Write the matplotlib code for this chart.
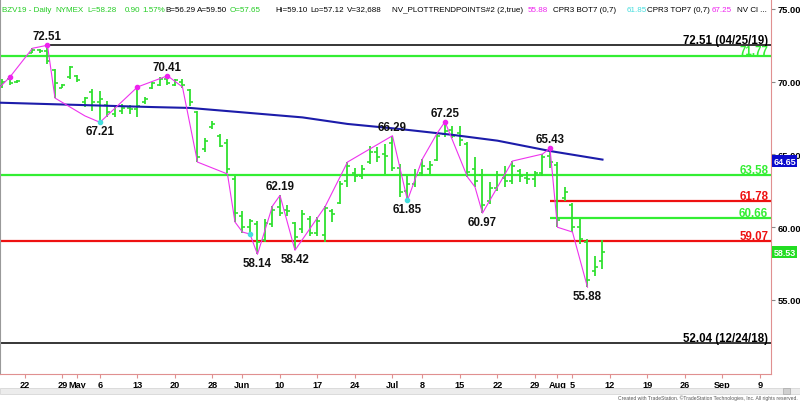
import numpy as np
import matplotlib.pyplot as plt
from matplotlib.patches import Rectangle

# trading-day index (0 = Apr 22 2019) and OHLC
bar_idx = [-3, -2, -1, 1, 2, 3, 4, 5, 6, 7, 8, 9, 10, 11, 12, 13, 14, 15, 16, 17,
           18, 19, 20, 21, 22, 23, 24, 25, 26, 27, 28, 29, 30, 31, 32, 33, 34, 35, 36, 37,
           38, 39, 40, 41, 42, 43, 44, 45, 46, 47, 48, 49, 50, 51, 52, 53, 54, 55, 56, 57,
           58, 59, 60, 61, 62, 63, 64, 65, 66, 67, 68, 69, 70, 71, 72, 73, 74, 75, 76, 77]
highs = [70.20, 70.33, 70.15, 72.30, 72.25, 72.51, 70.90, 69.85, 71.10, 70.45,
         68.95, 69.50, 69.36, 68.70, 68.40, 68.45, 68.40, 69.64, 68.95, 69.98,
         70.33, 70.41, 70.20, 70.20, 69.50, 68.00, 66.10, 67.30, 66.40, 66.07,
         63.50, 61.10, 60.60, 60.40, 60.56, 61.46, 62.19, 61.50, 60.36, 61.20,
         60.80, 60.70, 61.46, 61.25, 63.20, 64.48, 64.10, 64.30, 65.60, 65.50,
         65.70, 66.29, 64.35, 63.50, 64.00, 64.70, 64.55, 66.50, 67.25, 66.96,
         66.96, 65.86, 64.80, 64.00, 63.10, 63.86, 64.20, 64.55, 64.00, 63.80,
         63.86, 65.00, 65.43, 64.48, 62.80, 61.70, 60.56, 59.20, 58.00, 59.10]
lows = [69.60, 69.80, 69.90, 71.95, 72.00, 71.20, 68.90, 69.55, 70.20, 70.00,
        68.25, 68.00, 67.21, 67.60, 67.60, 67.80, 67.80, 67.60, 68.50, 69.50,
        69.70, 69.80, 69.70, 69.60, 68.30, 64.50, 65.20, 66.75, 65.50, 63.70,
        60.36, 59.60, 59.50, 58.14, 59.00, 60.00, 60.80, 60.80, 58.42, 59.60,
        59.40, 59.40, 59.00, 60.36, 61.60, 62.80, 63.10, 63.30, 64.35, 64.50,
        63.66, 63.90, 62.10, 61.85, 62.80, 63.50, 63.66, 64.55, 66.20, 66.10,
        65.60, 63.45, 62.77, 60.97, 61.60, 62.50, 62.80, 62.97, 63.10, 62.97,
        62.80, 63.50, 64.10, 60.00, 61.80, 59.67, 58.85, 55.88, 56.65, 57.12]
opens = [69.70, 70.20, 70.00, 72.00, 72.20, 72.10, 70.80, 69.60, 70.30, 70.40,
         68.60, 69.30, 68.60, 68.40, 67.80, 68.00, 68.20, 68.10, 68.60, 69.60,
         69.80, 70.20, 69.80, 70.00, 69.40, 67.90, 65.40, 66.90, 66.30, 65.80,
         63.30, 60.80, 60.00, 60.20, 59.10, 60.20, 61.40, 61.20, 60.30, 59.90,
         60.60, 59.60, 59.50, 61.10, 61.70, 63.20, 63.70, 63.50, 64.50, 65.20,
         65.00, 65.80, 64.10, 62.50, 63.00, 63.70, 64.00, 64.60, 66.40, 66.70,
         66.50, 65.70, 64.00, 63.60, 61.80, 62.70, 63.40, 63.20, 63.90, 63.40,
         63.30, 63.70, 64.90, 64.30, 62.00, 61.50, 60.00, 59.00, 57.00, 57.65]
closes = [70.00, 69.90, 70.05, 72.20, 72.10, 71.40, 69.90, 69.80, 71.00, 70.10,
          68.90, 68.60, 68.80, 67.90, 68.30, 68.20, 68.10, 68.30, 68.80, 69.90,
          70.20, 69.90, 70.10, 69.80, 68.60, 64.80, 65.90, 67.10, 65.60, 64.00,
          61.00, 60.00, 60.40, 59.00, 60.30, 61.20, 61.00, 61.10, 59.30, 60.90,
          59.60, 60.40, 61.30, 60.90, 63.00, 64.20, 63.50, 64.00, 65.20, 64.80,
          64.90, 64.10, 62.40, 63.00, 63.60, 64.20, 64.30, 66.30, 66.60, 66.30,
          66.00, 63.80, 63.20, 61.50, 62.70, 63.60, 63.20, 64.20, 63.50, 63.30,
          63.70, 64.80, 64.50, 60.50, 62.40, 60.00, 59.20, 56.40, 57.30, 58.28]

# swing line (NV_PLOTTRENDPOINTS)
zz_idx = [-3.33, -2, 1, 3, 4, 8, 10, 15, 19, 21, 23, 27, 28, 29, 30, 31, 33, 34, 36,
          40, 42, 43, 49, 51, 53, 55, 56, 59, 60, 61, 65, 69, 70, 71, 73, 75]
zz_val = [69.64, 70.33, 72.30, 72.51, 68.88, 67.65, 67.21, 69.64, 70.41, 69.64,
          64.48, 63.66, 60.36, 59.67, 59.53, 58.14, 61.46, 62.19, 58.42,
          61.40, 63.45, 64.48, 66.29, 61.85, 64.70, 66.50, 67.25, 63.45, 62.77,
          60.97, 64.55, 65.03, 65.43, 60.00, 59.67, 55.88]
hi_dot_idx = [-2, 3, 15, 19, 56, 70]
hi_dot_val = [70.33, 72.51, 69.64, 70.41, 67.25, 65.43]
lo_dot_idx = [10, 30, 51]
lo_dot_val = [67.21, 59.53, 61.85]

# swing labels: index, value, above(1)/below(-1)
sw_idx = [3, 10, 19, 31, 34, 36, 49, 51, 56, 61, 70, 75]
sw_val = [72.51, 67.21, 70.41, 58.14, 62.19, 58.42, 66.29, 61.85, 67.25, 60.97, 65.43, 55.88]
sw_pos = [1, -1, 1, -1, 1, -1, 1, -1, 1, -1, 1, -1]

# moving average (blue)
ma_idx = [-3.33, 17, 22, 37, 43, 50, 57, 63, 70, 77]
ma_val = [68.56, 68.26, 68.20, 67.55, 67.10, 66.75, 66.35, 65.95, 65.24, 64.65]

# horizontal levels: value, start index, colour, label
lvl_val = [72.51, 71.77, 63.58, 61.78, 60.66, 59.07, 52.04]
lvl_start = [3, -3.33, -3.33, 70, 70, -3.33, -3.33]
lvl_col = ['black', '#33ee33', '#33ee33', '#ee1111', '#33ee33', '#ee1111', 'black']
lvl_lab = ['72.51 (04/25/19)', '71.77', '63.58', '61.78', '60.66', '59.07', '52.04 (12/24/18)']

tick_idx = [0, 5, 7, 10, 15, 20, 25, 29, 34, 39, 44, 49, 53, 58, 63, 68, 71, 73, 78, 83, 88, 93, 98]
tick_lab = ['22', '29', 'May', '6', '13', '20', '28', 'Jun', '10', '17', '24', 'Jul', '8',
            '15', '22', '29', 'Aug', '5', '12', '19', '26', 'Sep', '9']

plt.rcParams['font.family'] = ['Liberation Sans', 'DejaVu Sans']
GREEN = '#2fe02f'
AXC = '#e09090'

fig = plt.figure(figsize=(8, 4.02), dpi=100)
ax = fig.add_axes([0, 27 / 402, 771 / 800, 375 / 402])
ax.set_xlim(-3.33, 99.47)
ax.set_ylim(49.914, 75.687)

# levels
for v, s, c, lab in zip(lvl_val, lvl_start, lvl_col, lvl_lab):
    lw = 1.1 if c == 'black' else 1.6
    ax.hlines(v, s, 99.47, colors=c, linewidth=lw, zorder=2)
    ax.annotate(lab, (99.1, v), xytext=(0, 2), textcoords='offset pixels',
                ha='right', va='baseline', color=c, fontsize=8.3, fontweight='bold', zorder=6)

# OHLC bars
bx = np.array(bar_idx)
ax.vlines(bx, lows, highs, colors=GREEN, linewidth=1.3, zorder=3)
ax.hlines(opens, bx - 0.4, bx, colors=GREEN, linewidth=1.2, zorder=3)
ax.hlines(closes, bx, bx + 0.4, colors=GREEN, linewidth=1.2, zorder=3)

ax.plot(ma_idx, ma_val, color='#1c1caa', linewidth=1.5, zorder=4)
ax.plot(zz_idx, zz_val, color='#ee33ee', linewidth=0.8, zorder=4)
ax.scatter(hi_dot_idx, hi_dot_val, s=9, color='#ee22ee', zorder=5)
ax.scatter(lo_dot_idx, lo_dot_val, s=9, color='#44dddd', zorder=5)

for i, v, p in zip(sw_idx, sw_val, sw_pos):
    ax.annotate('%.2f' % v, (i, v), xytext=(0, 9 * p), textcoords='offset pixels',
                ha='center', va='center', fontsize=8.3, fontweight='bold', color='#111111', zorder=6)

# axes styling
ax.spines['top'].set_visible(False)
ax.spines['left'].set_color('#999999')
ax.spines['right'].set_color(AXC)
ax.spines['bottom'].set_color(AXC)
ax.yaxis.tick_right()
ax.set_yticks([55, 60, 65, 70, 75])
ax.set_yticklabels(['%.2f' % t for t in [55, 60, 65, 70, 75]])
ax.tick_params(axis='y', length=3, width=0.8, color='#888888', pad=1.5,
               labelsize=6.7)
ax.set_xticks(tick_idx)
ax.set_xticklabels(tick_lab)
ax.tick_params(axis='x', length=3, width=0.8, color=AXC, pad=1, labelsize=6.6)
for t in ax.get_xticklabels() + ax.get_yticklabels():
    t.set_fontweight('bold')

# last value boxes on the price axis
ax.text(1.003, 64.55, '64.65', transform=ax.get_yaxis_transform(), ha='left', va='center',
        fontsize=6.5, fontweight='bold', color='white', clip_on=False, zorder=7,
        bbox=dict(boxstyle='square,pad=0.15', fc='#0a0acc', ec='none'))
ax.text(1.003, 58.28, '58.53', transform=ax.get_yaxis_transform(), ha='left', va='center',
        fontsize=6.5, fontweight='bold', color='white', clip_on=False, zorder=7,
        bbox=dict(boxstyle='square,pad=0.15', fc='#22dd22', ec='none'))

# header line
hdr = [(2, 'BZV19 - Daily', '#22cc22'), (55, 'NYMEX', '#22cc22'), (87, 'L=58.28', '#22cc22'),
       (125, '0.90', '#22cc22'), (142, '1.57%', '#22cc22'), (165, 'B=56.29', 'black'),
       (197, 'A=59.50', 'black'), (230, 'O=57.65', '#22cc22'), (275, 'Hi=59.10', 'black'),
       (310, 'Lo=57.12', 'black'), (347, 'V=32,688', 'black'),
       (392, 'NV_PLOTTRENDPOINTS#2 (2,true)', 'black'), (528, '55.88', '#ee22ee'),
       (553, 'CPR3 BOT7 (0,7)', 'black'), (627, '61.85', '#44dddd'),
       (647, 'CPR3 TOP7 (0,7)', 'black'), (712, '67.25', '#ee22ee'), (737, 'NV Cl ...', 'black')]
for x, s, c in hdr:
    fig.text(x / 800, 1 - 10 / 402, s, color=c, fontsize=5.8, ha='left', va='center')

# scroll bar and footer
fig.patches.append(Rectangle((0, 1 - 395 / 402), 1, 6 / 402, transform=fig.transFigure,
                             fc='#ececec', ec='#d0d0d0', lw=0.5))
fig.patches.append(Rectangle((783 / 800, 1 - 395 / 402), 7 / 800, 6 / 402,
                             transform=fig.transFigure, fc='#cfcfcf', ec='#aaaaaa', lw=0.5))
fig.text(798 / 800, 1 / 402, 'Created with TradeStation. \u00a9TradeStation Technologies, Inc. All rights reserved.',
         fontsize=3.6, color='#555555', ha='right', va='bottom')

fig.savefig('out.png', dpi=100)
